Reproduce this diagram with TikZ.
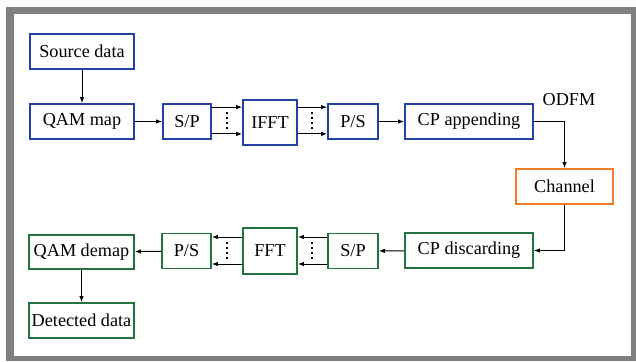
\documentclass[tikz,border=0pt]{standalone}
\usepackage{fontspec}
\setmainfont{Liberation Serif}
\usetikzlibrary{arrows.meta}
\definecolor{bblue}{RGB}{35,65,165}
\definecolor{bgreen}{RGB}{35,115,65}
\definecolor{borange}{RGB}{240,125,45}
\definecolor{frame}{RGB}{128,128,128}
\begin{document}
\begin{tikzpicture}[x=0.5pt,y=-0.5pt,
  box/.style={draw,line width=0.8pt,inner sep=0pt,font=\fontsize{9.1}{11}\selectfont},
  bluebox/.style={box,draw=bblue},
  greenbox/.style={box,draw=bgreen},
  orangebox/.style={box,draw=borange},
  conn/.style={line width=0.5pt,-{Latex[length=3pt,width=2.2pt]}},
  vdots/.style={line width=0.9pt,dash pattern=on 0.9pt off 1.6pt}]
\useasboundingbox (0,0) rectangle (636,361);
\fill[frame] (6,7) rectangle (636,361);
\fill[white] (14,14) rectangle (631,356);
% upper row
\node[bluebox,minimum width=52pt,minimum height=17.5pt] (src) at (82,51.5) {Source data};
\node[bluebox,minimum width=52pt,minimum height=17.5pt] (qam) at (82,121.5) {QAM map};
\node[bluebox,minimum width=24pt,minimum height=17.5pt] (sp1) at (187,121.5) {S/P};
\node[bluebox,minimum width=27pt,minimum height=22.5pt] (ifft) at (270,122.5) {IFFT};
\node[bluebox,minimum width=25pt,minimum height=17.5pt] (ps1) at (353,121.5) {P/S};
\node[bluebox,minimum width=64pt,minimum height=17.5pt] (cpa) at (469,121.5) {CP appending};
\node[font=\fontsize{9.1}{11}\selectfont] (odfm) at (569,100) {ODFM};
\node[orangebox,minimum width=48.5pt,minimum height=17.5pt] (chan) at (564.5,186.5) {Channel};
% lower row
\node[greenbox,minimum width=64pt,minimum height=17.5pt] (cpd) at (469,250.5) {CP discarding};
\node[greenbox,minimum width=25pt,minimum height=17.5pt] (sp2) at (353,251) {S/P};
\node[greenbox,minimum width=27pt,minimum height=23pt] (fft) at (270,251) {FFT};
\node[greenbox,minimum width=24.5pt,minimum height=17.5pt] (ps2) at (186.5,251) {P/S};
\node[greenbox,minimum width=52.5pt,minimum height=17pt] (qdm) at (81.5,252) {QAM demap};
\node[greenbox,minimum width=52.5pt,minimum height=17.5pt] (det) at (81.5,320.5) {Detected data};
% connector end points
\coordinate (u1) at ([yshift=7.2pt]sp1.east);
\coordinate (u2) at ([yshift=-6.2pt]sp1.east);
\coordinate (u3) at ([yshift=7.2pt]ps1.west);
\coordinate (u4) at ([yshift=-6.2pt]ps1.west);
\coordinate (l1) at ([yshift=7pt]sp2.west);
\coordinate (l2) at ([yshift=-6.5pt]sp2.west);
\coordinate (l3) at ([yshift=7pt]ps2.east);
\coordinate (l4) at ([yshift=-6.5pt]ps2.east);
% connectors upper
\draw[conn] (src) -- (qam);
\draw[conn] (qam) -- (sp1);
\draw[conn] (u1) -- (u1 -| ifft.west);
\draw[conn] (u2) -- (u2 -| ifft.west);
\draw[conn] (u3 -| ifft.east) -- (u3);
\draw[conn] (u4 -| ifft.east) -- (u4);
\coordinate (d1a) at (227,112); \coordinate (d1b) at (227,130);
\draw[vdots] (d1a) -- (d1b);
\coordinate (d2a) at (312,112); \coordinate (d2b) at (312,130);
\draw[vdots] (d2a) -- (d2b);
\draw[conn] (ps1) -- (cpa);
\draw[conn] (cpa.east) -| (chan.north);
\draw[conn] (chan.south) |- (cpd.east);
% lower
\draw[conn] (cpd) -- (sp2);
\draw[conn] (l1) -- (l1 -| fft.east);
\draw[conn] (l2) -- (l2 -| fft.east);
\draw[conn] (l3 -| fft.west) -- (l3);
\draw[conn] (l4 -| fft.west) -- (l4);
\coordinate (d3a) at (227,242); \coordinate (d3b) at (227,260);
\draw[vdots] (d3a) -- (d3b);
\coordinate (d4a) at (312,242); \coordinate (d4b) at (312,260);
\draw[vdots] (d4a) -- (d4b);
\draw[conn] (ps2) -- (qdm);
\draw[conn] (qdm) -- (det);
\end{tikzpicture}
\end{document}
